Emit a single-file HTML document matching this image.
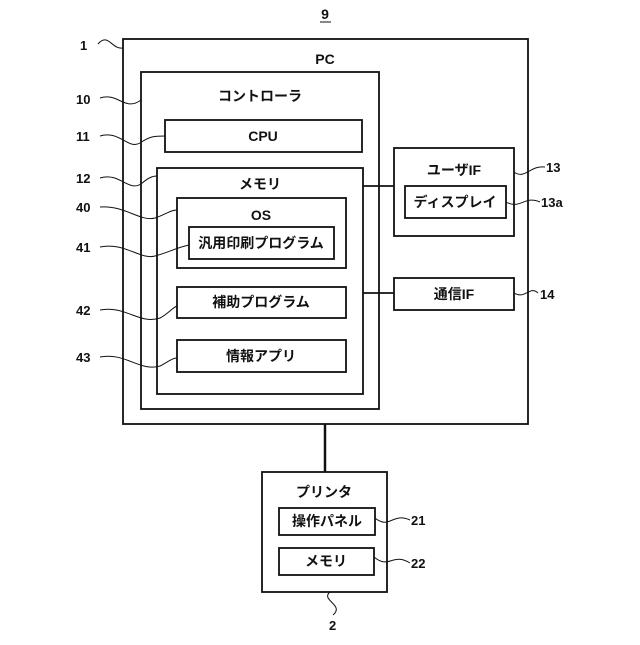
<!DOCTYPE html>
<html><head><meta charset="utf-8"><style>
body{margin:0;background:#fff}
svg text{font-family:"Liberation Sans","Noto Sans CJK JP",sans-serif;font-weight:bold;fill:#111}
</style></head><body>
<svg width="640" height="640" viewBox="0 0 640 640" xmlns="http://www.w3.org/2000/svg">
<g fill="none" stroke="#111" stroke-width="1.8">
<rect x="123" y="39" width="405" height="385"/>
<rect x="141" y="72" width="238" height="337"/>
<rect x="165" y="120" width="197" height="32"/>
<rect x="157" y="168" width="206" height="226"/>
<rect x="177" y="198" width="169" height="70"/>
<rect x="189" y="227" width="145" height="32"/>
<rect x="177" y="287" width="169" height="31"/>
<rect x="177" y="340" width="169" height="32"/>
<rect x="394" y="148" width="120" height="88"/>
<rect x="405" y="186" width="101" height="32"/>
<rect x="394" y="278" width="120" height="32"/>
<rect x="262" y="472" width="125" height="120"/>
<rect x="279" y="508" width="96" height="27"/>
<rect x="279" y="548" width="95" height="27"/>
<line x1="363" y1="186" x2="394" y2="186"/>
<line x1="363" y1="293" x2="394" y2="293"/>
<line x1="325" y1="424" x2="325" y2="472" stroke-width="2.5"/>
</g>
<g fill="none" stroke="#111" stroke-width="1">
<path d="M98 44 C108 32,112 50,123 48"/>
<path d="M100 98 C118 92,125 112,141 100"/>
<path d="M100 136 C120 130,128 150,140 143 C150 136,155 136,165 136"/>
<path d="M100 178 C120 172,128 192,141 184 C148 178,152 176,157 176"/>
<path d="M100 207 C125 205,140 222,155 218 C165 215,170 210,177 210"/>
<path d="M100 247 C125 242,140 260,155 256 C170 252,175 248,189 245"/>
<path d="M100 310 C125 305,140 325,160 318 C168 314,172 308,177 306"/>
<path d="M100 357 C125 352,140 372,160 366 C168 362,172 358,177 358"/>
<path d="M514 172 C525 180,530 165,545 167"/>
<path d="M506 202 C520 210,525 195,540 202"/>
<path d="M514 293 C525 300,530 285,538 293"/>
<path d="M375 518 C390 530,392 512,410 520"/>
<path d="M374 557 C390 570,392 552,410 563"/>
<path d="M330 592 C320 600,345 605,333 615"/>
</g>
<g font-size="14" text-anchor="middle">
<text x="325" y="19" font-weight="normal">9</text>
<line x1="320" y1="22" x2="331" y2="22" stroke="#111" stroke-width="1"/>
<text x="325" y="64">PC</text>
<text x="260" y="101">コントローラ</text>
<text x="263" y="141">CPU</text>
<text x="260" y="189">メモリ</text>
<text x="261" y="220">OS</text>
<text x="261" y="248">汎用印刷プログラム</text>
<text x="261" y="307">補助プログラム</text>
<text x="261" y="361">情報アプリ</text>
<text x="454" y="175">ユーザIF</text>
<text x="455" y="207">ディスプレイ</text>
<text x="454" y="299">通信IF</text>
<text x="324" y="497">プリンタ</text>
<text x="327" y="526">操作パネル</text>
<text x="326" y="566">メモリ</text>
</g>
<g font-size="13" font-weight="normal">
<text x="80" y="50">1</text>
<text x="76" y="104">10</text>
<text x="76" y="141">11</text>
<text x="76" y="183">12</text>
<text x="76" y="212">40</text>
<text x="76" y="252">41</text>
<text x="76" y="315">42</text>
<text x="76" y="362">43</text>
<text x="546" y="172">13</text>
<text x="541" y="207">13a</text>
<text x="540" y="299">14</text>
<text x="411" y="525">21</text>
<text x="411" y="568">22</text>
<text x="329" y="630">2</text>
</g>
</svg>
</body></html>
